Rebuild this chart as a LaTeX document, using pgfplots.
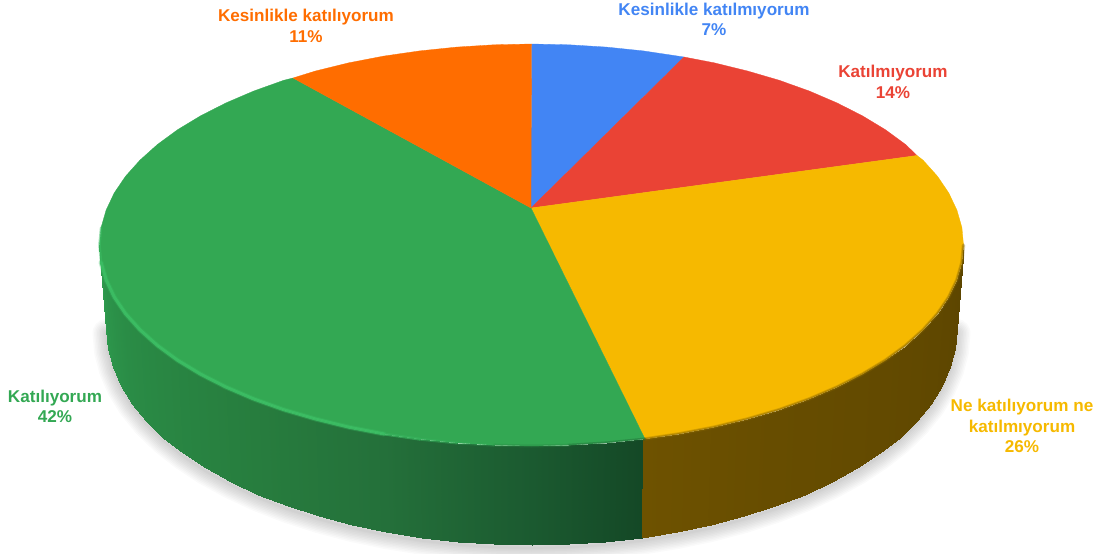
\documentclass[border=0pt]{standalone}
\usepackage{pgfplots}
\usepackage{pgfplotstable}
\usepackage{fontspec}
\setmainfont{Liberation Sans}
\pgfplotsset{compat=1.18}
\definecolor{cblue}{HTML}{4285F4}
\definecolor{cred}{HTML}{EA4335}
\definecolor{cyel}{HTML}{F6B900}
\definecolor{cgre}{HTML}{33A853}
\definecolor{cora}{HTML}{FF6D00}
\definecolor{rim}{RGB}{60,190,100}
\definecolor{rimb}{RGB}{54,178,92}
\pgfplotsset{colormap={wall}{rgb255(75)=(20,72,38) rgb255(90)=(27,90,48) rgb255(110)=(36,112,58) rgb255(130)=(39,125,62) rgb255(160)=(42,140,70) rgb255(180)=(46,155,78) rgb255(181)=(110,82,0) rgb255(200)=(103,77,0) rgb255(256)=(92,69,0)}}
% side wall, front slice: x y meta (top edge, bottom edge for each step)
\pgfplotstableread{
x y m
643.3 439.1 75
641.5 537.7 75
606.5 442.9 80
605.3 541.7 80
569.2 445.2 85
568.6 544.2 85
531.5 446 90
531.5 545 90
493.8 445.2 95
494.4 544.2 95
456.5 442.9 100
457.7 541.7 100
419.7 439.1 105
421.5 537.7 105
383.7 433.9 110
386.1 532 110
348.9 427.2 115
351.9 524.9 115
315.5 419 120
319 516.2 120
283.7 409.7 125
287.7 506.1 125
253.8 399 130
258.3 494.7 130
226 387.1 135
231 482 135
200.6 374.2 140
205.9 468.2 140
177.6 360.3 145
183.3 453.3 145
157.4 345.5 150
163.4 437.5 150
140 329.9 155
146.3 420.9 155
125.5 313.7 160
132.1 403.5 160
114.2 297 165
121 385.6 165
106.1 279.9 170
113 367.3 170
101.1 262.5 175
108.1 348.7 175
99.5 245 180
106.5 330 180
}\greenwall
\pgfplotstableread{
x y m
963.5 245 256
956.5 330 256
961.9 262.5 251
954.9 348.7 251
956.9 279.9 246
950 367.3 246
948.8 297 241
942 385.6 241
937.5 313.7 236
930.9 403.5 236
923 329.9 231
916.7 420.9 231
905.6 345.5 226
899.6 437.5 226
885.4 360.3 221
879.7 453.3 221
862.4 374.2 216
857.1 468.2 216
837 387.1 211
832 482 211
809.2 399 206
804.7 494.7 206
779.3 409.7 201
775.3 506.1 201
747.5 419 196
744 516.2 196
714.1 427.2 191
711.1 524.9 191
679.3 433.9 186
676.9 532 186
643.3 439.1 181
641.5 537.7 181
}\yellowwall
\pgfplotstableread{
x y
956.5 330
954.9 348.7
950 367.3
942 385.6
930.9 403.5
916.7 420.9
899.6 437.5
879.7 453.3
857.1 468.2
832 482
804.7 494.7
775.3 506.1
744 516.2
711.1 524.9
676.9 532
641.5 537.7
605.3 541.7
568.6 544.2
531.5 545
494.4 544.2
457.7 541.7
421.5 537.7
386.1 532
351.9 524.9
319 516.2
287.7 506.1
258.3 494.7
231 482
205.9 468.2
183.3 453.3
163.4 437.5
146.3 420.9
132.1 403.5
121 385.6
113 367.3
108.1 348.7
106.5 330
}\bottomedge
\begin{document}
\begin{tikzpicture}
\path[use as bounding box] (0,0) rectangle (1109pt,554pt);
\begin{axis}[
  at={(0,0)}, anchor=south west,
  width=1109pt, height=554pt, scale only axis,
  xmin=0, xmax=1109, ymin=0, ymax=554, y dir=reverse,
  hide axis, colormap name=wall, point meta min=75, point meta max=256,
  every axis plot/.append style={line join=round, line cap=round, mark=none},
]
% soft shadow
\pgfplotsinvokeforeach{28,25,22,19,16,13,10,7,4,2}{
  \addplot[draw=black, draw opacity=0.02, line width=#1pt, forget plot] table[y expr=\thisrow{y}+3] {\bottomedge};
}
% side walls
\addplot[surf, shader=interp, mesh/rows=22, mesh/cols=2, point meta=explicit] table[x=x,y=y,meta=m] {\greenwall};
\addplot[surf, shader=interp, mesh/rows=16, mesh/cols=2, point meta=explicit] table[x=x,y=y,meta=m] {\yellowwall};
% top slices
\addplot[fill=cblue, draw=cblue, line width=.3pt] coordinates {(531,208)(531.5,44)(569.2,44.8)(606.5,47.1)(643.3,50.9)(684,57)} -- cycle;
\addplot[fill=cred, draw=cred, line width=.3pt] coordinates {(531,208)(684,57)(714.1,62.8)(747.5,71)(779.3,80.3)(809.2,91)(837,102.9)(862.4,115.8)(885.4,129.7)(905.6,144.5)(917,155.5)} -- cycle;
\addplot[fill=cyel, draw=cyel, line width=.3pt] coordinates {(531,208)(917,155.5)(923,160.1)(937.5,176.3)(948.8,193)(956.9,210.1)(961.9,227.5)(963.5,245)(961.9,262.5)(956.9,279.9)(948.8,297)(937.5,313.7)(923,329.9)(905.6,345.5)(885.4,360.3)(862.4,374.2)(837,387.1)(809.2,399)(779.3,409.7)(747.5,419)(714.1,427.2)(679.3,433.9)(645,439)} -- cycle;
\addplot[fill=cgre, draw=cgre, line width=.3pt] coordinates {(531,208)(645,439)(606.5,442.9)(569.2,445.2)(531.5,446)(493.8,445.2)(456.5,442.9)(419.7,439.1)(383.7,433.9)(348.9,427.2)(315.5,419)(283.7,409.7)(253.8,399)(226,387.1)(200.6,374.2)(177.6,360.3)(157.4,345.5)(140,329.9)(125.5,313.7)(114.2,297)(106.1,279.9)(101.1,262.5)(99.5,245)(101.1,227.5)(106.1,210.1)(114.2,193)(125.5,176.3)(140,160.1)(157.4,144.5)(177.6,129.7)(200.6,115.8)(226,102.9)(253.8,91)(283.7,80.3)(293,78)} -- cycle;
\addplot[fill=cora, draw=cora, line width=.3pt] coordinates {(531,208)(293,78)(315.5,71)(348.9,62.8)(383.7,56.1)(419.7,50.9)(456.5,47.1)(493.8,44.8)(531.5,44)} -- cycle;
% rim light and shade on the top edge
\addplot[draw=cyel!55!black, line width=3.5pt, draw opacity=.3] coordinates {(963.5,245)(961.9,262.5)(956.9,279.9)(948.8,297)(937.5,313.7)(923,329.9)(905.6,345.5)(885.4,360.3)(862.4,374.2)(837,387.1)(809.2,399)(779.3,409.7)(747.5,419)(714.1,427.2)(679.3,433.9)(645,439)};
\addplot[draw=cyel!55!black, line width=1.8pt, draw opacity=.45] coordinates {(963.5,245)(961.9,262.5)(956.9,279.9)(948.8,297)(937.5,313.7)(923,329.9)(905.6,345.5)(885.4,360.3)(862.4,374.2)(837,387.1)(809.2,399)(779.3,409.7)(747.5,419)(714.1,427.2)(679.3,433.9)(645,439)};
\addplot[draw=cgre!55!black, line width=3pt, draw opacity=.35] coordinates {(645,439)(606.5,442.9)(569.2,445.2)};
\addplot[draw=cgre!80!black, line width=3pt, draw opacity=.35] coordinates {(569.2,445.2)(531.5,446)(493.8,445.2)};
\addplot[draw=rimb, line width=3pt, draw opacity=.25] coordinates {(493.8,445.2)(456.5,442.9)};
\addplot[draw=rimb, line width=3pt, draw opacity=.5] coordinates {(456.5,442.9)(419.7,439.1)};
\addplot[draw=rimb, line width=3pt, draw opacity=.75] coordinates {(419.7,439.1)(383.7,433.9)};
\addplot[draw=rim, line width=5pt, draw opacity=.3] coordinates {(383.7,433.9)(348.9,427.2)(315.5,419)(283.7,409.7)(253.8,399)(226,387.1)(200.6,374.2)(177.6,360.3)(157.4,345.5)(140,329.9)(125.5,313.7)(114.2,297)(106.1,279.9)(101.1,262.5)};
\addplot[draw=rim, line width=3pt, draw opacity=.9] coordinates {(383.7,433.9)(348.9,427.2)(315.5,419)(283.7,409.7)(253.8,399)(226,387.1)(200.6,374.2)(177.6,360.3)(157.4,345.5)(140,329.9)(125.5,313.7)(114.2,297)(106.1,279.9)(101.1,262.5)};
\addplot[draw=rim, line width=2.5pt, draw opacity=.5] coordinates {(101.1,262.5)(99.5,245)(101.1,227.5)};
% labels
\begin{scope}[every node/.style={font=\fontsize{17.1}{20.5}\selectfont\bfseries, align=center, inner sep=0pt}]
\node[text=cora] at (axis cs:306,26) {Kesinlikle katılıyorum\\11\%};
\node[text=cblue] at (axis cs:714,19.5) {Kesinlikle katılmıyorum\\7\%};
\node[text=cred] at (axis cs:893,82) {Katılmıyorum\\14\%};
\node[text=cyel] at (axis cs:1022,426) {Ne katılıyorum ne\\katılmıyorum\\26\%};
\node[text=cgre] at (axis cs:55,406.5) {Katılıyorum\\42\%};
\end{scope}
\end{axis}
\end{tikzpicture}
\end{document}
